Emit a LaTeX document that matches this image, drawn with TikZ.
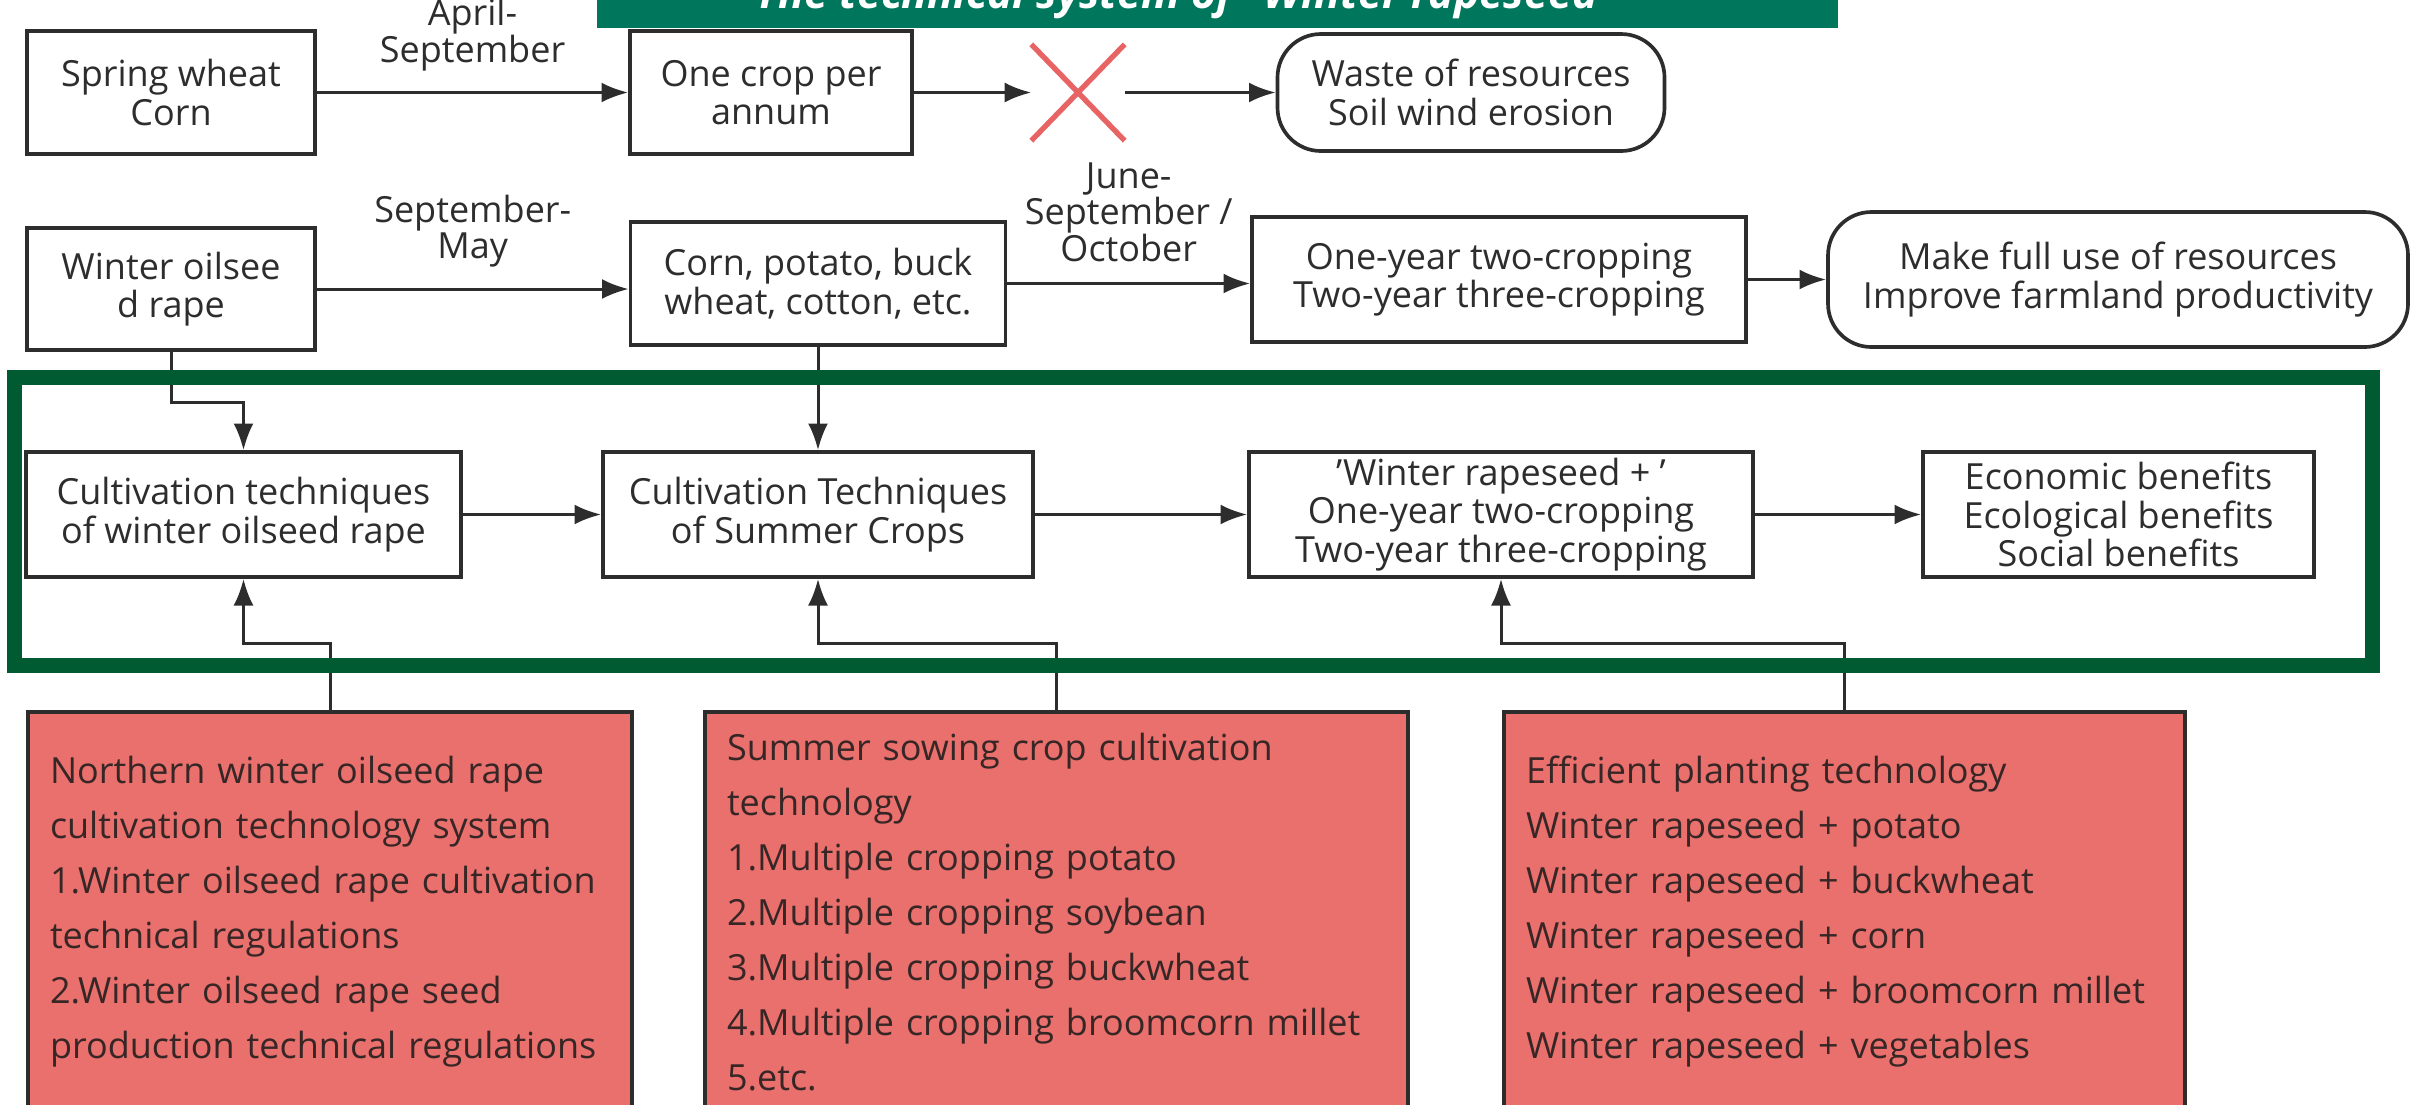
\documentclass[tikz,border=0pt]{standalone}
\usepackage{fontspec}
\setmainfont{Open Sans}
\usetikzlibrary{arrows.meta}
\definecolor{inkgray}{RGB}{45,45,45}
\definecolor{titlegreen}{RGB}{0,118,92}
\definecolor{framegreen}{RGB}{0,90,50}
\definecolor{techred}{RGB}{233,112,108}
\definecolor{techink}{RGB}{55,38,38}
\definecolor{crossred}{RGB}{232,100,100}
\newcommand\cellfont{\fontsize{10.8}{11.5}\selectfont}
\newcommand\whenfont{\fontsize{10.8}{11}\selectfont}
\newcommand\techfont{\fontsize{10.8}{16.5}\selectfont}
\tikzset{
  cell/.style 2 args={draw=inkgray, line width=1.1pt, fill=white, text=inkgray, align=center,
    inner sep=0pt, font=\cellfont, minimum width=#1*0.3pt, minimum height=#2*0.3pt},
  oval/.style 2 args={cell={#1}{#2}, rounded corners=13pt},
  tech/.style={draw=inkgray, line width=1.1pt, fill=techred, text=techink, align=left,
    inner sep=0pt, font=\techfont, anchor=north, minimum height=400*0.3pt},
  link/.style={draw=inkgray, line width=0.9pt, ->},
  when/.style={font=\whenfont, text=inkgray, align=center, inner sep=0pt, above=6pt}
}
\begin{document}
\begin{tikzpicture}[x=0.3pt, y=-0.3pt, >={Latex[length=8pt,width=6pt]}]
\useasboundingbox (0,0) rectangle (2433,1104);
\clip (0,0) rectangle (2433,1104);

% first row
\node[cell={288}{123}] (spring) at (171,92.5) {Spring wheat\\Corn};
\node[cell={282}{123}] (onecrop) at (771,92.5) {One crop per\\annum};
\node[minimum width=92*0.3pt, minimum height=95*0.3pt, inner sep=0pt] (cross) at (1078,92.5) {};
\draw[crossred, line width=1.6pt] (cross.north west) -- (cross.south east)
  (cross.north east) -- (cross.south west);
\node[oval={387}{117}] (waste) at (1471,92.5) {Waste of resources\\Soil wind erosion};
\draw[link] (spring) -- node[when]{April-\\September} (onecrop);
\draw[link] (onecrop) -- (cross);
\draw[link] (cross) -- (waste);

% second row
\node[cell={288}{122}] (winter) at (171,289) {Winter oilsee\\d rape};
\node[cell={375}{123}] (corn) at (818,283.5) {Corn, potato, buck\\wheat, cotton, etc.};
\node[cell={494}{125}] (oneyear) at (1499,279.5) {One-year two-cropping\\Two-year three-cropping};
\node[oval={580}{135}] (fulluse) at (2118,279.5) {Make full use of resources\\Improve farmland productivity};
\draw[link] (winter.east) -- node[when]{September-\\May} (winter.east -| corn.west);
\draw[link] (corn.east) -- node[when]{June-\\September /\\October} (corn.east -| oneyear.west);
\draw[link] (oneyear.east) -- (oneyear.east -| fulluse.west);

% third row
\node[cell={435}{125}] (cultw) at (243.5,514.5) {Cultivation techniques\\of winter oilseed rape};
\node[cell={430}{125}] (cults) at (818,514.5) {Cultivation Techniques\\of Summer Crops};
\node[cell={504}{125}] (combo) at (1501,514.5) {'Winter rapeseed + '\\One-year two-cropping\\Two-year three-cropping};
\node[cell={391}{125}] (benefit) at (2118.5,514.5) {Economic benefits\\Ecological benefits\\Social benefits};
\draw[link] (cultw) -- (cults);
\draw[link] (cults) -- (combo);
\draw[link] (combo) -- (benefit);
\draw[link] (winter.south) -- ++(0,51) -| (cultw.north);
\draw[link] (corn) -- (cults);

% technology boxes
\node[tech, minimum width=604*0.3pt, text width=168pt] (techw) at (330,710)
  {Northern winter oilseed rape\\cultivation technology system\\1.Winter oilseed rape cultivation\\technical regulations\\2.Winter oilseed rape seed\\production technical regulations};
\node[tech, minimum width=703*0.3pt, text width=197.7pt] (techs) at (1056.5,710)
  {Summer sowing crop cultivation\\technology\\1.Multiple cropping potato\\2.Multiple cropping soybean\\3.Multiple cropping buckwheat\\4.Multiple cropping broomcorn millet\\5.etc.};
\node[tech, minimum width=681*0.3pt, text width=191.1pt] (techp) at (1844.5,710)
  {Efficient planting technology\\Winter rapeseed + potato\\Winter rapeseed + buckwheat\\Winter rapeseed + corn\\Winter rapeseed + broomcorn millet\\Winter rapeseed + vegetables};
\draw[link] (techw.north) -- ++(0,-67) -| (cultw.south);
\draw[link] (techs.north) -- ++(0,-67) -| (cults.south);
\draw[link] (techp.north) -- ++(0,-67) -| (combo.south);

% frame and title
\draw[framegreen, line width=4.5pt] (14,377) rectangle (2372,665);
\node[fill=titlegreen, minimum width=1241*0.3pt, minimum height=60*0.3pt, inner sep=0pt, anchor=south] (banner) at (1217.5,29) {};
\node[font=\bfseries\itshape\fontsize{12.9}{14}\selectfont, text=white, anchor=base] (title) at (1186,8) {The technical system of “Winter rapeseed”};
\end{tikzpicture}
\end{document}
